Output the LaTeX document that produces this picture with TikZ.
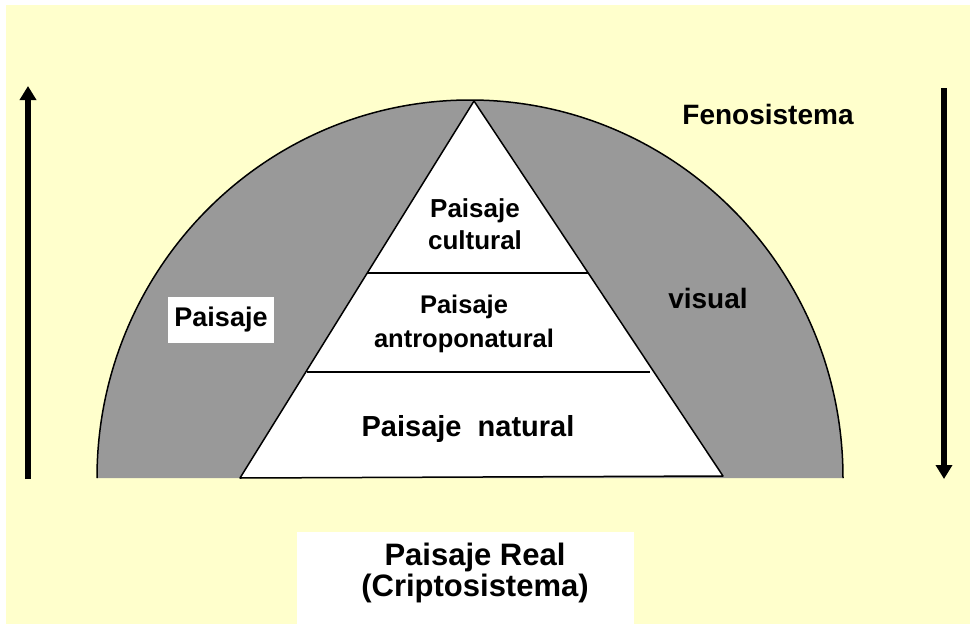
\documentclass[tikz,border=0pt]{standalone}
\usepackage{fontspec}
\setmainfont{Liberation Sans}
\usetikzlibrary{arrows.meta,calc}
\definecolor{bgyellow}{RGB}{255,255,204}
\definecolor{domegray}{RGB}{153,153,153}
\tikzset{
  lbl/.style={font=\bfseries, align=center, inner sep=0pt},
  bigarrow/.style={line width=6pt, -{Triangle[width=16pt,length=14pt]}},
  divline/.style={line width=1.2pt},
  whitebox/.style={fill=white, draw=none}
}
\begin{document}
\begin{tikzpicture}[x=1pt,y=-1pt]
\useasboundingbox (0,0) rectangle (970,624);
\fill[white] (0,0) rectangle (970,624);
\fill[bgyellow] (6,5) rectangle (970,624);
% dome
\coordinate (cen) at (470,478);
\coordinate (dl) at (97,478);
\fill[domegray] (dl) arc[start angle=180,end angle=360,x radius=373,y radius=378] -- cycle;
\draw[line width=1.5pt] (dl) arc[start angle=180,end angle=360,x radius=373,y radius=378];
% triangle
\coordinate (apex) at (474,101);
\coordinate (bl) at (240,478);
\coordinate (br) at (723,476);
\filldraw[fill=white, draw=black, line width=1.5pt, line join=round] (apex) -- (bl) -- (br) -- cycle;
\coordinate (d1l) at (367,273);
\coordinate (d1r) at (588,273);
\coordinate (d2l) at (307,372);
\coordinate (d2r) at (650,372);
\draw[divline] (d1l) -- (d1r);
\draw[divline] (d2l) -- (d2r);
% texts in triangle
\node[lbl, font=\bfseries\fontsize{26}{32}\selectfont] (cult) at (475,224) {Paisaje\\cultural};
\node[lbl, font=\bfseries\fontsize{25.5}{34}\selectfont] (antro) at (464,324) {Paisaje\\antroponatural};
\node[lbl, font=\bfseries\fontsize{29}{34}\selectfont] (nat) at (468,429) {Paisaje\ \ natural};
% side labels
\node[whitebox, minimum width=106pt, minimum height=46pt, inner sep=0pt] (pbox) at (221,320) {};
\node[lbl, font=\bfseries\fontsize{27}{32}\selectfont] (pais) at (pbox) {Paisaje};
\node[lbl, font=\bfseries\fontsize{28}{32}\selectfont] (vis) at (708,298) {visual};
\node[lbl, font=\bfseries\fontsize{28}{32}\selectfont] (feno) at (768,114) {Fenosistema};
% bottom box
\fill[white] (297,532) rectangle (634,624);
\node[lbl, font=\bfseries\fontsize{31}{31}\selectfont] (real) at (475,573) {Paisaje Real\\(Criptosistema)};
% arrows
\coordinate (la0) at (28,479);
\coordinate (la1) at (28,86);
\coordinate (ra0) at (944,88);
\coordinate (ra1) at (944,479);
\draw[bigarrow] (la0) -- (la1);
\draw[bigarrow] (ra0) -- (ra1);
\end{tikzpicture}
\end{document}
